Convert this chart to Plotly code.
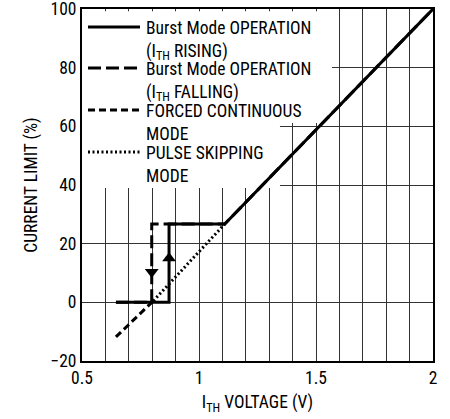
import plotly.graph_objects as go

# ---- data ----
rising_x = [0.645, 0.872, 0.872, 1.11, 2.0]
rising_y = [0, 0, 26.7, 26.7, 100]

falling_x = [0.645, 0.798, 0.798, 1.11, 2.0]
falling_y = [0, 0, 26.7, 26.7, 100]

forced_x = [0.645, 0.805]
forced_y = [-11.8, 0.5]

pulse_x = [0.805, 1.11]
pulse_y = [0.5, 26.7]

arrow_down_x = [0.798]
arrow_down_y = [10.3]
arrow_up_x = [0.872]
arrow_up_y = [15.0]

x_tick_vals = [0.5, 1, 1.5, 2]
x_tick_text = ["0.5", "1", "1.5", "2"]
y_tick_vals = [-20, 0, 20, 40, 60, 80, 100]

legend_labels = [
    "Burst Mode OPERATION<br>(I<sub>TH</sub> RISING)",
    "Burst Mode OPERATION<br>(I<sub>TH</sub> FALLING)",
    "FORCED CONTINUOUS<br>MODE",
    "PULSE SKIPPING<br>MODE",
]

FONT = "Liberation Sans Narrow, Arial Narrow, Roboto Condensed, Liberation Sans, Arial, sans-serif"
FS = 17.5
BLACK = "#000000"
LW = 3

fig = go.Figure()

fig.add_trace(go.Scatter(x=falling_x, y=falling_y, mode="lines",
                         line=dict(color=BLACK, width=LW, dash="13px,5px"),
                         showlegend=False, hoverinfo="skip"))
fig.add_trace(go.Scatter(x=forced_x, y=forced_y, mode="lines",
                         line=dict(color=BLACK, width=LW, dash="7px,4px"),
                         showlegend=False, hoverinfo="skip"))
fig.add_trace(go.Scatter(x=pulse_x, y=pulse_y, mode="lines",
                         line=dict(color=BLACK, width=LW, dash="2px,2.5px"),
                         showlegend=False, hoverinfo="skip"))
fig.add_trace(go.Scatter(x=rising_x, y=rising_y, mode="lines",
                         line=dict(color=BLACK, width=LW),
                         showlegend=False, hoverinfo="skip"))
fig.add_trace(go.Scatter(x=arrow_down_x, y=arrow_down_y, mode="markers",
                         marker=dict(symbol="triangle-down", size=12, color=BLACK,
                                     line=dict(width=0)),
                         showlegend=False, hoverinfo="skip"))
fig.add_trace(go.Scatter(x=arrow_up_x, y=arrow_up_y, mode="markers",
                         marker=dict(symbol="triangle-up", size=12, color=BLACK,
                                     line=dict(width=0)),
                         showlegend=False, hoverinfo="skip"))

# white masks behind the legend text (hide gridlines)
fig.add_shape(type="rect", xref="x", yref="y", x0=0.5, x1=1.568, y0=61.1, y1=99.2,
              fillcolor="white", line=dict(width=0), layer="between")
fig.add_shape(type="rect", xref="x", yref="y", x0=0.5, x1=1.346, y0=39.0, y1=61.1,
              fillcolor="white", line=dict(width=0), layer="between")

# manual legend; plot area in px: x 82..433, y 9..361
def px_to_paper_x(px):
    return (px - 82) / 351.0

def px_to_paper_y(py):
    return (361 - py) / 352.0

legend_y_px = [27, 68, 110, 152]
dashes = ["solid", "13px,5px", "7px,4px", "2px,2.5px"]
for label, ypx, dsh in zip(legend_labels, legend_y_px, dashes):
    fig.add_shape(type="line", xref="paper", yref="paper",
                  x0=px_to_paper_x(88), x1=px_to_paper_x(140),
                  y0=px_to_paper_y(ypx), y1=px_to_paper_y(ypx),
                  line=dict(color=BLACK, width=LW, dash=dsh), layer="above")
    fig.add_annotation(xref="paper", yref="paper", x=px_to_paper_x(144),
                       y=px_to_paper_y(ypx - 11), text=label, showarrow=False,
                       xanchor="left", yanchor="top", align="left",
                       font=dict(family=FONT, size=FS, color=BLACK))

fig.update_xaxes(range=[0.5, 2], tickvals=x_tick_vals, ticktext=x_tick_text,
                 showgrid=True, gridcolor="#333", gridwidth=1,
                 minor=dict(dtick=0.1, showgrid=True, gridcolor="#333", gridwidth=1),
                 showline=True, linecolor=BLACK, linewidth=2, mirror=True,
                 ticks="", zeroline=False, automargin=False,
                 ticklabeloverflow="allow",
                 title=dict(text="I<sub>TH</sub> VOLTAGE (V)", standoff=9,
                            font=dict(family=FONT, size=FS, color=BLACK)),
                 tickfont=dict(family=FONT, size=FS, color=BLACK))
fig.update_yaxes(range=[-20, 100], tickvals=y_tick_vals,
                 showgrid=True, gridcolor="#333", gridwidth=1,
                 showline=True, linecolor=BLACK, linewidth=2, mirror=True,
                 ticks="", zeroline=False, automargin=False,
                 ticklabeloverflow="allow",
                 title=dict(text="CURRENT LIMIT (%)", standoff=8,
                            font=dict(family=FONT, size=FS, color=BLACK)),
                 tickfont=dict(family=FONT, size=FS, color=BLACK))

fig.update_layout(width=450, height=419,
                  margin=dict(l=82, r=17, t=9, b=58),
                  plot_bgcolor="white", paper_bgcolor="white",
                  showlegend=False)

fig.write_html("out.html", config={"displayModeBar": False},
               post_script="document.body.style.margin='0';document.body.style.padding='0';")
